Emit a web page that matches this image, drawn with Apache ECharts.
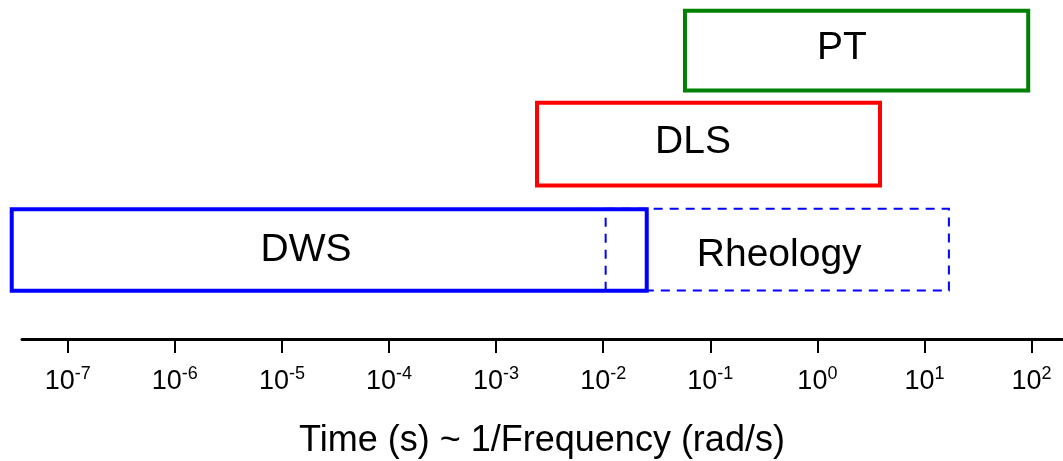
<!DOCTYPE html>
<html>
<head>
<meta charset="utf-8">
<script src="https://cdn.jsdelivr.net/npm/echarts@6/dist/echarts.min.js"></script>
<style>
html,body{margin:0;padding:0;background:#fff;}
#chart{width:1063px;height:461px;}
</style>
</head>
<body>
<div id="chart"></div>
<script>
// Techniques and their time ranges (seconds)
var names = ['PT', 'DLS', 'DWS', 'Rheology'];
var tStart = [0.058, 0.00241, 3.0e-8, 0.01054];
var tEnd = [93, 3.84, 0.0255, 16.9];
// vertical band of each box (arbitrary row units, 0..10)
var yLow = [7.33, 4.53, 1.42, 1.43];
var yHigh = [9.68, 6.97, 3.83, 3.84];
// label anchor (seconds) and row position
var labelT = [1.69, 0.0689, 1.68e-5, 0.44];
var labelY = [8.57, 5.79, 2.62, 2.47];
var colors = ['#008000', '#ff0000', '#0000ff', '#0000ff'];
var dashed = [false, false, false, true];
// axis tick exponents
var tickExp = [-7, -6, -5, -4, -3, -2, -1, 0, 1, 2];
var axisMinT = Math.pow(10, -7.427);
var axisMaxT = Math.pow(10, 2.284);
var axisTitle = 'Time (s) ~ 1/Frequency (rad/s)';

var FONT = '"Liberation Sans", Arial, sans-serif';

var data = names.map(function (n, i) {
  return [Math.log10(tStart[i]), Math.log10(tEnd[i]), yLow[i], yHigh[i],
          Math.log10(labelT[i]), labelY[i], i];
});

var chart = echarts.init(document.getElementById('chart'), null, {renderer: 'canvas'});
chart.setOption({
  animation: false,
  grid: {left: 22, right: 1, top: 0, bottom: 122, containLabel: false, outerBoundsMode: 'none'},
  xAxis: {
    type: 'value',
    min: Math.log10(axisMinT),
    max: Math.log10(axisMaxT),
    splitLine: {show: false},
    axisLine: {show: true, lineStyle: {color: '#000', width: 3}},
    axisTick: {show: true, customValues: tickExp, length: 14, lineStyle: {color: '#000', width: 2}},
    axisLabel: {
      show: true,
      customValues: tickExp,
      margin: 26,
      color: '#000',
      formatter: function (v) { return '{base|10}{sup|' + v + '}'; },
      rich: {
        base: {fontSize: 27, fontFamily: FONT, color: '#000', lineHeight: 30, verticalAlign: 'bottom'},
        sup: {fontSize: 18, fontFamily: FONT, color: '#000', lineHeight: 18, verticalAlign: 'top'}
      }
    },
    name: axisTitle,
    nameLocation: 'middle',
    nameGap: 84,
    nameTextStyle: {fontSize: 36, fontFamily: FONT, color: '#000'}
  },
  yAxis: {
    type: 'value', min: 0, max: 10, show: false,
    splitLine: {show: false}
  },
  series: [{
    type: 'custom',
    data: data,
    clip: false,
    renderItem: function (params, api) {
      var i = api.value(6);
      var p0 = api.coord([api.value(0), api.value(3)]);
      var p1 = api.coord([api.value(1), api.value(2)]);
      var lp = api.coord([api.value(4), api.value(5)]);
      var dash = dashed[i];
      return {
        type: 'group',
        children: [{
          type: 'rect',
          shape: {x: p0[0], y: p0[1], width: p1[0] - p0[0], height: p1[1] - p0[1]},
          style: {
            fill: 'none',
            stroke: colors[i],
            lineWidth: dash ? 2 : 4,
            lineDash: dash ? [9, 7] : null
          },
          z2: dash ? 1 : 2
        }, {
          type: 'text',
          style: {
            text: names[i],
            x: lp[0], y: lp[1],
            fill: '#000',
            fontSize: 39,
            fontFamily: FONT,
            align: 'center',
            verticalAlign: 'middle'
          }
        }]
      };
    }
  }]
});
</script>
</body>
</html>
